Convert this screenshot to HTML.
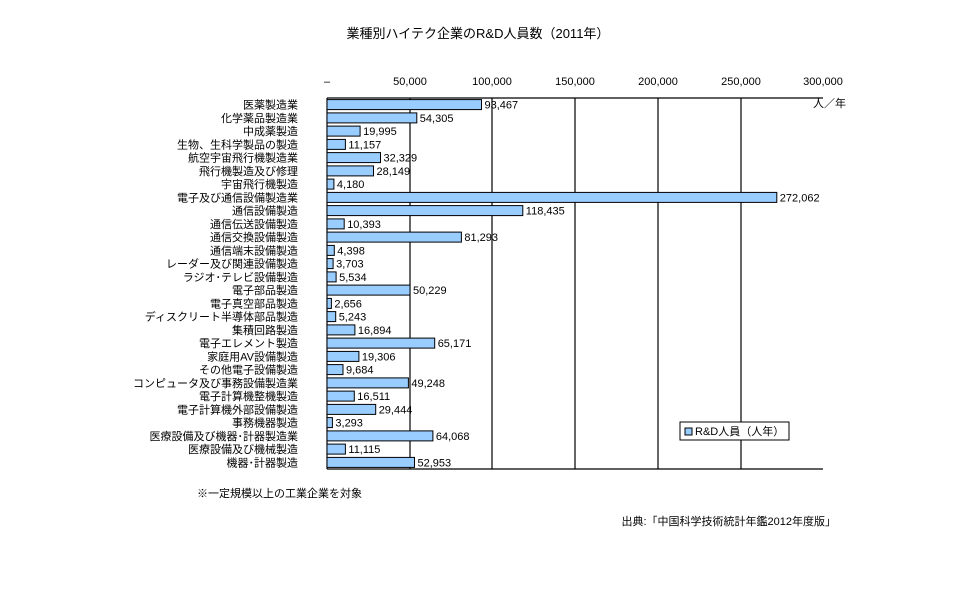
<!DOCTYPE html>
<html><head><meta charset="utf-8"><style>
body{margin:0;background:#fff}
svg{display:block;font-family:"Liberation Sans","Noto Sans CJK JP",sans-serif}
</style></head><body>
<svg width="960" height="600" viewBox="0 0 960 600" xmlns="http://www.w3.org/2000/svg">
<text x="478" y="38" font-size="13" text-anchor="middle">業種別ハイテク企業のR&amp;D人員数（2011年）</text>
<g font-size="11" text-anchor="middle">
<text x="327" y="85">–</text><text x="410" y="85">50,000</text><text x="492" y="85">100,000</text><text x="575" y="85">150,000</text><text x="658" y="85">200,000</text><text x="741" y="85">250,000</text><text x="823" y="85">300,000</text>
</g>
<text x="813" y="107" font-size="11">人／年</text>
<g stroke="#000" stroke-width="1.2">
<line x1="410" y1="98" x2="410" y2="469"/><line x1="492" y1="98" x2="492" y2="469"/><line x1="575" y1="98" x2="575" y2="469"/><line x1="658" y1="98" x2="658" y2="469"/><line x1="741" y1="98" x2="741" y2="469"/>
<line x1="327" y1="98" x2="823" y2="98"/><line x1="327" y1="469" x2="823" y2="469"/><line x1="327" y1="98" x2="327" y2="469"/>
</g>
<g fill="#99ccff" stroke="#000">
<rect x="327" y="99.6" width="154.5" height="10"/>
<rect x="327" y="112.9" width="89.8" height="10"/>
<rect x="327" y="126.1" width="33.1" height="10"/>
<rect x="327" y="139.4" width="18.4" height="10"/>
<rect x="327" y="152.6" width="53.5" height="10"/>
<rect x="327" y="165.9" width="46.5" height="10"/>
<rect x="327" y="179.1" width="6.9" height="10"/>
<rect x="327" y="192.4" width="449.8" height="10"/>
<rect x="327" y="205.6" width="195.8" height="10"/>
<rect x="327" y="218.9" width="17.2" height="10"/>
<rect x="327" y="232.1" width="134.4" height="10"/>
<rect x="327" y="245.4" width="7.3" height="10"/>
<rect x="327" y="258.6" width="6.1" height="10"/>
<rect x="327" y="271.9" width="9.1" height="10"/>
<rect x="327" y="285.1" width="83.0" height="10"/>
<rect x="327" y="298.4" width="4.4" height="10"/>
<rect x="327" y="311.6" width="8.7" height="10"/>
<rect x="327" y="324.9" width="27.9" height="10"/>
<rect x="327" y="338.1" width="107.7" height="10"/>
<rect x="327" y="351.4" width="31.9" height="10"/>
<rect x="327" y="364.6" width="16.0" height="10"/>
<rect x="327" y="377.9" width="81.4" height="10"/>
<rect x="327" y="391.1" width="27.3" height="10"/>
<rect x="327" y="404.4" width="48.7" height="10"/>
<rect x="327" y="417.6" width="5.4" height="10"/>
<rect x="327" y="430.9" width="105.9" height="10"/>
<rect x="327" y="444.1" width="18.4" height="10"/>
<rect x="327" y="457.4" width="87.5" height="10"/>
</g>
<g font-size="11">
<text x="484.5" y="108.6">93,467</text>
<text x="419.8" y="121.9">54,305</text>
<text x="363.1" y="135.1">19,995</text>
<text x="348.4" y="148.4">11,157</text>
<text x="383.5" y="161.6">32,329</text>
<text x="376.5" y="174.9">28,149</text>
<text x="336.9" y="188.1">4,180</text>
<text x="779.8" y="201.4">272,062</text>
<text x="525.8" y="214.6">118,435</text>
<text x="347.2" y="227.9">10,393</text>
<text x="464.4" y="241.1">81,293</text>
<text x="337.3" y="254.4">4,398</text>
<text x="336.1" y="267.6">3,703</text>
<text x="339.1" y="280.9">5,534</text>
<text x="413.0" y="294.1">50,229</text>
<text x="334.4" y="307.4">2,656</text>
<text x="338.7" y="320.6">5,243</text>
<text x="357.9" y="333.9">16,894</text>
<text x="437.7" y="347.1">65,171</text>
<text x="361.9" y="360.4">19,306</text>
<text x="346.0" y="373.6">9,684</text>
<text x="411.4" y="386.9">49,248</text>
<text x="357.3" y="400.1">16,511</text>
<text x="378.7" y="413.4">29,444</text>
<text x="335.4" y="426.6">3,293</text>
<text x="435.9" y="439.9">64,068</text>
<text x="348.4" y="453.1">11,115</text>
<text x="417.5" y="466.4">52,953</text>
</g>
<g font-size="11" text-anchor="end">
<text x="298" y="108.6">医薬製造業</text>
<text x="298" y="121.9">化学薬品製造業</text>
<text x="298" y="135.1">中成薬製造</text>
<text x="298" y="148.4">生物、生科学製品の製造</text>
<text x="298" y="161.6">航空宇宙飛行機製造業</text>
<text x="298" y="174.9">飛行機製造及び修理</text>
<text x="298" y="188.1">宇宙飛行機製造</text>
<text x="298" y="201.4">電子及び通信設備製造業</text>
<text x="298" y="214.6">通信設備製造</text>
<text x="298" y="227.9">通信伝送設備製造</text>
<text x="298" y="241.1">通信交換設備製造</text>
<text x="298" y="254.4">通信端末設備製造</text>
<text x="298" y="267.6">レーダー及び関連設備製造</text>
<text x="298" y="280.9">ラジオ･テレビ設備製造</text>
<text x="298" y="294.1">電子部品製造</text>
<text x="298" y="307.4">電子真空部品製造</text>
<text x="298" y="320.6">ディスクリート半導体部品製造</text>
<text x="298" y="333.9">集積回路製造</text>
<text x="298" y="347.1">電子エレメント製造</text>
<text x="298" y="360.4">家庭用AV設備製造</text>
<text x="298" y="373.6">その他電子設備製造</text>
<text x="298" y="386.9">コンピュータ及び事務設備製造業</text>
<text x="298" y="400.1">電子計算機整機製造</text>
<text x="298" y="413.4">電子計算機外部設備製造</text>
<text x="298" y="426.6">事務機器製造</text>
<text x="298" y="439.9">医療設備及び機器･計器製造業</text>
<text x="298" y="453.1">医療設備及び機械製造</text>
<text x="298" y="466.4">機器･計器製造</text>
</g>
<rect x="680" y="422" width="109" height="18" fill="#fff" stroke="#000"/>
<rect x="685" y="428" width="7" height="7" fill="#99ccff" stroke="#000"/>
<text x="695" y="435" font-size="11">R&amp;D人員（人年）</text>
<text x="197" y="497" font-size="11">※一定規模以上の工業企業を対象</text>
<text x="836" y="525" font-size="11" text-anchor="end">出典:「中国科学技術統計年鑑2012年度版」</text>
</svg>
</body></html>
